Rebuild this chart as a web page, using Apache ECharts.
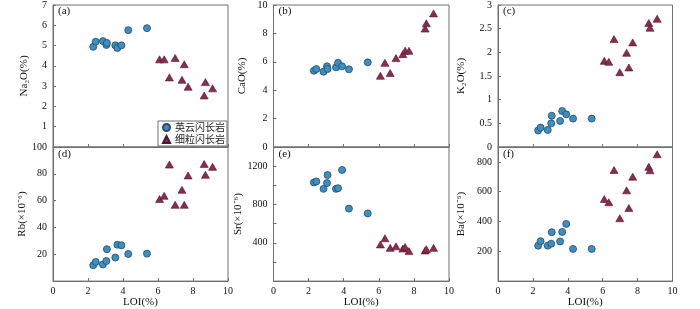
<!DOCTYPE html>
<html>
<head>
<meta charset="utf-8">
<script src="https://cdn.jsdelivr.net/npm/echarts@6/dist/echarts.min.js"></script>
<style>
  html, body { margin: 0; padding: 0; background: #fff; }
  #chart { width: 700px; height: 309px; }
</style>
</head>
<body>
<div id="chart"></div>
<script>
// sample groups
const seriesNames = ["英云闪长岩", "细粒闪长岩"];

// LOI(%) for each sample
const loiTon = [2.30, 2.44, 2.85, 3.05, 3.08, 3.56, 3.68, 3.91, 4.30, 5.37];
const loiDio = [6.09, 6.35, 6.65, 6.98, 7.37, 7.50, 7.72, 8.64, 8.71, 9.12];

// oxides (%)
const na2oTon = [4.94, 5.19, 5.22, 5.03, 5.13, 5.01, 4.88, 5.01, 5.76, 5.86];
const na2oDio = [4.32, 4.32, 3.43, 4.39, 3.31, 4.08, 2.97, 2.54, 3.20, 2.89];
const caoTon = [5.37, 5.49, 5.30, 5.68, 5.49, 5.61, 5.93, 5.68, 5.47, 5.96];
const caoDio = [5.02, 5.93, 5.21, 6.26, 6.54, 6.78, 6.78, 8.34, 8.71, 9.41];
const k2oTon = [0.35, 0.41, 0.36, 0.50, 0.66, 0.55, 0.76, 0.69, 0.60, 0.60];
const k2oDio = [1.82, 1.80, 2.28, 1.58, 1.99, 1.68, 2.21, 2.62, 2.52, 2.71];

// trace elements (x10^-6)
const rbTon = [11.9, 14.3, 12.4, 15.0, 23.8, 17.6, 27.1, 26.7, 20.2, 20.5];
const rbDio = [61.2, 63.6, 86.9, 56.9, 68.1, 56.9, 78.8, 87.4, 79.3, 85.2];
const srTon = [1030, 1040, 963, 1023, 1107, 963, 970, 1160, 757, 707];
const srDio = [383, 447, 347, 363, 340, 357, 313, 320, 333, 347];
const baTon = [238, 268, 238, 251, 328, 266, 330, 384, 216, 216];
const baDio = [551, 529, 746, 422, 609, 491, 701, 767, 744, 851];

// axes
const panelTags = ["(a)", "(b)", "(c)", "(d)", "(e)", "(f)"];
const yNames = ["Na₂O(%)", "CaO(%)", "K₂O(%)", "Rb(×10⁻⁶)", "Sr(×10⁻⁶)", "Ba(×10⁻⁶)"];
const xName = "LOI(%)";

const serif = "'Times New Roman', 'Liberation Serif', serif";
const lineColor = "#707070";
const blue = "#3a8fc5";
const red = "#8c2b52";

const cols = [
  { left: 53, width: 175 },
  { left: 273.5, width: 175.5 },
  { left: 498, width: 174.5 },
];
const rows = [
  { top: 4, height: 143 },
  { top: 147, height: 140 },
];

const panels = [
  { ton: na2oTon, dio: na2oDio, max: 7, step: 1, gap: 23, hide: (v) => v === 0 },
  { ton: caoTon, dio: caoDio, max: 10, step: 2, gap: 26, hide: () => false },
  { ton: k2oTon, dio: k2oDio, max: 3, step: 0.5, gap: 31, hide: () => false },
  { ton: rbTon, dio: rbDio, max: 100, step: 20, gap: 22, hide: (v) => v === 0 },
  { ton: srTon, dio: srDio, max: 1400, step: 200, gap: 28, hide: (v) => v === 0 || v % 400 !== 0 },
  { ton: baTon, dio: baDio, max: 900, step: 200, gap: 31, hide: (v) => v === 0 || v > 800 },
];

const grid = [], xAxis = [], yAxis = [], series = [], title = [];

panels.forEach((p, i) => {
  const c = cols[i % 3];
  const r = rows[Math.floor(i / 3)];
  const bottomRow = i >= 3;
  grid.push({
    left: c.left, top: r.top, width: c.width, height: r.height,
    show: true, borderColor: lineColor, borderWidth: 1, backgroundColor: "transparent",
  });
  title.push({
    text: panelTags[i],
    left: c.left + 5, top: r.top + 2, padding: 0,
    textStyle: { fontFamily: serif, fontSize: 11, fontWeight: "normal", color: "#111" },
  });
  xAxis.push({
    gridIndex: i, type: "value", min: 0, max: 10, interval: 2,
    name: bottomRow ? xName : "",
    nameLocation: "middle", nameGap: 13,
    nameTextStyle: { fontFamily: serif, fontSize: 11, color: "#111" },
    axisLine: { show: true, lineStyle: { color: lineColor, width: 1 } },
    axisTick: { show: true, inside: true, length: 3, lineStyle: { color: lineColor } },
    axisLabel: {
      show: bottomRow, margin: 5, fontFamily: serif, fontSize: 10, color: "#111",
    },
    splitLine: { show: false },
  });
  yAxis.push({
    gridIndex: i, type: "value", min: 0, max: p.max, interval: p.step,
    name: yNames[i], nameLocation: "middle", nameGap: p.gap, nameRotate: 90,
    nameTextStyle: { fontFamily: serif, fontSize: 11, color: "#111" },
    axisLine: { show: true, lineStyle: { color: lineColor, width: 1 } },
    axisTick: { show: true, inside: true, length: 3, lineStyle: { color: lineColor } },
    axisLabel: {
      margin: 6, fontFamily: serif, fontSize: 10, color: "#111",
      showMaxLabel: true, showMinLabel: true,
      formatter: (v) => (p.hide(v) ? "" : String(v)),
    },
    splitLine: { show: false },
  });
  series.push({
    name: seriesNames[0], type: "scatter", xAxisIndex: i, yAxisIndex: i,
    symbol: "circle", symbolSize: 7,
    itemStyle: { color: blue, borderColor: "#2b4a62", borderWidth: 0.8, opacity: 1 },
    data: loiTon.map((x, k) => [x, p.ton[k]]),
  });
  series.push({
    name: seriesNames[1], type: "scatter", xAxisIndex: i, yAxisIndex: i,
    symbol: "triangle", symbolSize: [8, 7],
    itemStyle: { color: red, borderColor: "#4a1a2c", borderWidth: 0.6, opacity: 1 },
    data: loiDio.map((x, k) => [x, p.dio[k]]),
  });
});

const myChart = echarts.init(document.getElementById("chart"), null, { renderer: "canvas" });
myChart.setOption({
  animation: false,
  backgroundColor: "#fff",
  title: title,
  grid: grid,
  xAxis: xAxis,
  yAxis: yAxis,
  legend: {
    data: seriesNames,
    orient: "vertical",
    left: 158, top: 121,
    padding: [1, 2, 1, 4],
    itemGap: 1, itemWidth: 7, itemHeight: 7,
    borderColor: lineColor, borderWidth: 1, backgroundColor: "#fff",
    textStyle: { fontFamily: "'Noto Sans CJK SC'", fontSize: 10, lineHeight: 11, color: "#222" },
  },
  series: series,
});
</script>
</body>
</html>
